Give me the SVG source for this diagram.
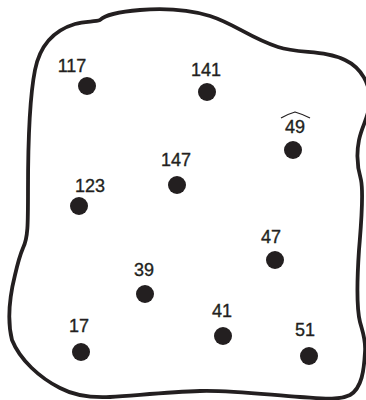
<svg xmlns="http://www.w3.org/2000/svg" width="366" height="400" viewBox="0 0 366 400">
<style>
.lbl{font-family:"Liberation Sans",Arial,sans-serif;font-size:18px;fill:#231f20;stroke:#231f20;stroke-width:0.35;text-anchor:middle;}
.dot{fill:#231f20;}
.outline{fill:none;stroke:#231f20;stroke-width:3.8;stroke-linejoin:round;stroke-linecap:round;}
.hat{fill:none;stroke:#231f20;stroke-width:1.3;}
</style>
<rect width="366" height="400" fill="#ffffff"/>
<path id="outline" class="outline" d="M 28,190 C 28,150 29,100 35,70 C 40,45 55,30 75,24 C 85,21 95,22 100,20 C 104,16 115,12 140,10 C 165,8 190,10 210,16 C 235,24 250,38 278,47 C 300,54 325,50 345,60 C 362,68 370,85 370,100 C 370,115 362,125 359,140 C 356,155 358,170 361,180 C 364,195 361,225 359,250 C 357,280 357,310 360,322 C 363,333 366,340 365,352 C 364,370 362,388 350,395 C 338,401 318,398 300,397 C 270,395 230,390 200,391 C 170,392 140,395 110,397 C 90,398 75,396 60,388 C 40,378 20,360 12,340 C 7,320 10,295 15,275 C 18,262 20,255 23,248 C 28,238 28,225 28,190 Z"/>
<g id="n117"><circle class="dot" cx="87" cy="86" r="9"/><text class="lbl" x="72" y="72">117</text></g>
<g id="n141"><circle class="dot" cx="207" cy="92" r="9"/><text class="lbl" x="206" y="76">141</text></g>
<g id="n49"><circle class="dot" cx="293" cy="150" r="9"/><text class="lbl" x="295" y="133">49</text><path class="hat" d="M 281,118 Q 288,114 295,112 Q 302,114 310,118"/></g>
<g id="n147"><circle class="dot" cx="177" cy="185" r="9"/><text class="lbl" x="176" y="166">147</text></g>
<g id="n123"><circle class="dot" cx="79" cy="206" r="9"/><text class="lbl" x="90" y="192">123</text></g>
<g id="n47"><circle class="dot" cx="275" cy="260" r="9"/><text class="lbl" x="271" y="243">47</text></g>
<g id="n39"><circle class="dot" cx="145" cy="294" r="9"/><text class="lbl" x="144" y="276">39</text></g>
<g id="n41"><circle class="dot" cx="223" cy="336" r="9"/><text class="lbl" x="222" y="317">41</text></g>
<g id="n17"><circle class="dot" cx="81" cy="352" r="9"/><text class="lbl" x="79" y="332">17</text></g>
<g id="n51"><circle class="dot" cx="309" cy="356" r="9"/><text class="lbl" x="305" y="336">51</text></g>
</svg>
